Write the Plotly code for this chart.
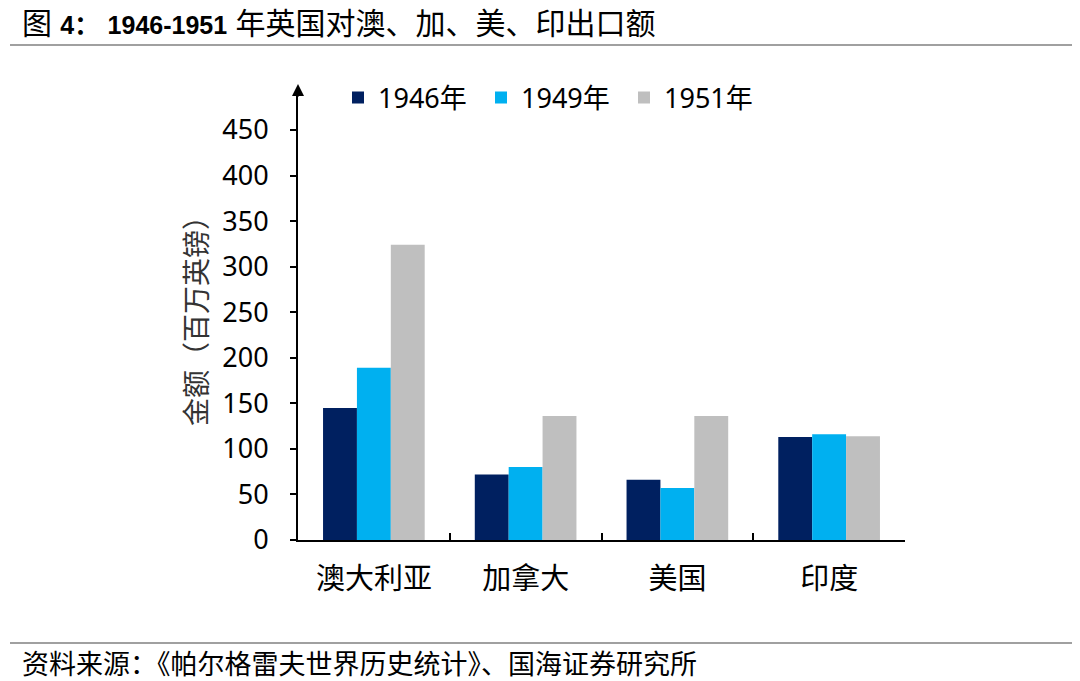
import plotly.graph_objects as go

categories = ["澳大利亚", "加拿大", "美国", "印度"]
series_names = ["1946年", "1949年", "1951年"]
v1946 = [145, 72, 66, 113]
v1949 = [189, 80, 57, 116]
v1951 = [324, 136, 136, 114]
colors = ["#002060", "#00B0F0", "#BFBFBF"]
y_ticks = [0, 50, 100, 150, 200, 250, 300, 350, 400, 450]

# page has an 8px body margin; work in screen pixels and subtract it
OFF = 8
W, H = 1080 - OFF, 681 - OFF
L, R, T, B = 298 - OFF, 905 - OFF, 89 - OFF, 540 - OFF
def px(x):
    return (x - OFF - L) / (R - L)
def py(y):
    return (B - (y - OFF)) / (B - T)

FONT = "Noto Sans, Noto Sans CJK SC, sans-serif"
fig = go.Figure()
for name, vals, c in zip(series_names, [v1946, v1949, v1951], colors):
    fig.add_trace(go.Bar(x=categories, y=vals, name=name, marker_color=c,
                         marker_line_width=0))

fig.update_layout(
    width=W, height=H,
    margin=dict(l=L, r=W - R, t=T, b=H - B),
    plot_bgcolor="white", paper_bgcolor="white",
    barmode="group", bargap=0.33, bargroupgap=0,
    font=dict(family=FONT, color="black"),
    showlegend=True,
    legend=dict(orientation="h", x=px(338), y=py(98), xanchor="left", yanchor="middle",
                font=dict(size=27, family=FONT), entrywidth=98, entrywidthmode="pixels",
                bgcolor="rgba(0,0,0,0)", traceorder="normal"),
)
fig.update_xaxes(showline=True, linecolor="black", linewidth=2,
                 ticks="inside", tickson="boundaries", ticklen=7, tickwidth=2, tickcolor="black",
                 tickfont=dict(size=29, family=FONT), ticklabelstandoff=12,
                 showgrid=False, zeroline=False)
fig.update_yaxes(range=[0, 495], showline=True, linecolor="black", linewidth=2,
                 ticks="outside", ticklen=6, tickwidth=1.5, tickcolor="black",
                 tickvals=y_ticks, tickfont=dict(size=27, family=FONT),
                 ticklabelstandoff=16, showgrid=False, zeroline=False)

# arrow at top of y axis
fig.add_annotation(x=0, y=py(84), xref="paper", yref="paper", ax=0, ay=14,
                   showarrow=True, arrowhead=2, arrowsize=1.2, arrowwidth=2,
                   arrowcolor="black", text="")

# y title
fig.add_annotation(x=px(196), y=py(314), xref="paper", yref="paper", text="金额（百万英镑）",
                   textangle=-90, showarrow=False, font=dict(size=28, color="#333333", family=FONT),
                   xanchor="center", yanchor="middle")

# title
fig.add_annotation(x=px(20), y=py(23), xref="paper", yref="paper",
                   text=("图 <b><span style='font-size:25px'>4：</span></b> "
                         "<b><span style='font-size:25px'>1946-1951</span></b> 年英国对澳、加、美、印出口额"),
                   showarrow=False, xanchor="left", yanchor="middle",
                   font=dict(size=30, color="black", family="Liberation Sans, Noto Sans CJK SC"))
# footer
fig.add_annotation(x=px(20), y=py(662), xref="paper", yref="paper",
                   text="资料来源：《帕尔格雷夫世界历史统计》、国海证券研究所",
                   showarrow=False, xanchor="left", yanchor="middle",
                   font=dict(size=27, color="black", family="Noto Sans CJK SC"))

# separator lines
fig.add_shape(type="line", xref="paper", yref="paper", x0=px(10), x1=px(1080),
              y0=py(45), y1=py(45), line=dict(color="#808080", width=1.5))
fig.add_shape(type="line", xref="paper", yref="paper", x0=px(10), x1=px(1080),
              y0=py(643), y1=py(643), line=dict(color="#808080", width=1.5))

fig.write_html("out.html")
